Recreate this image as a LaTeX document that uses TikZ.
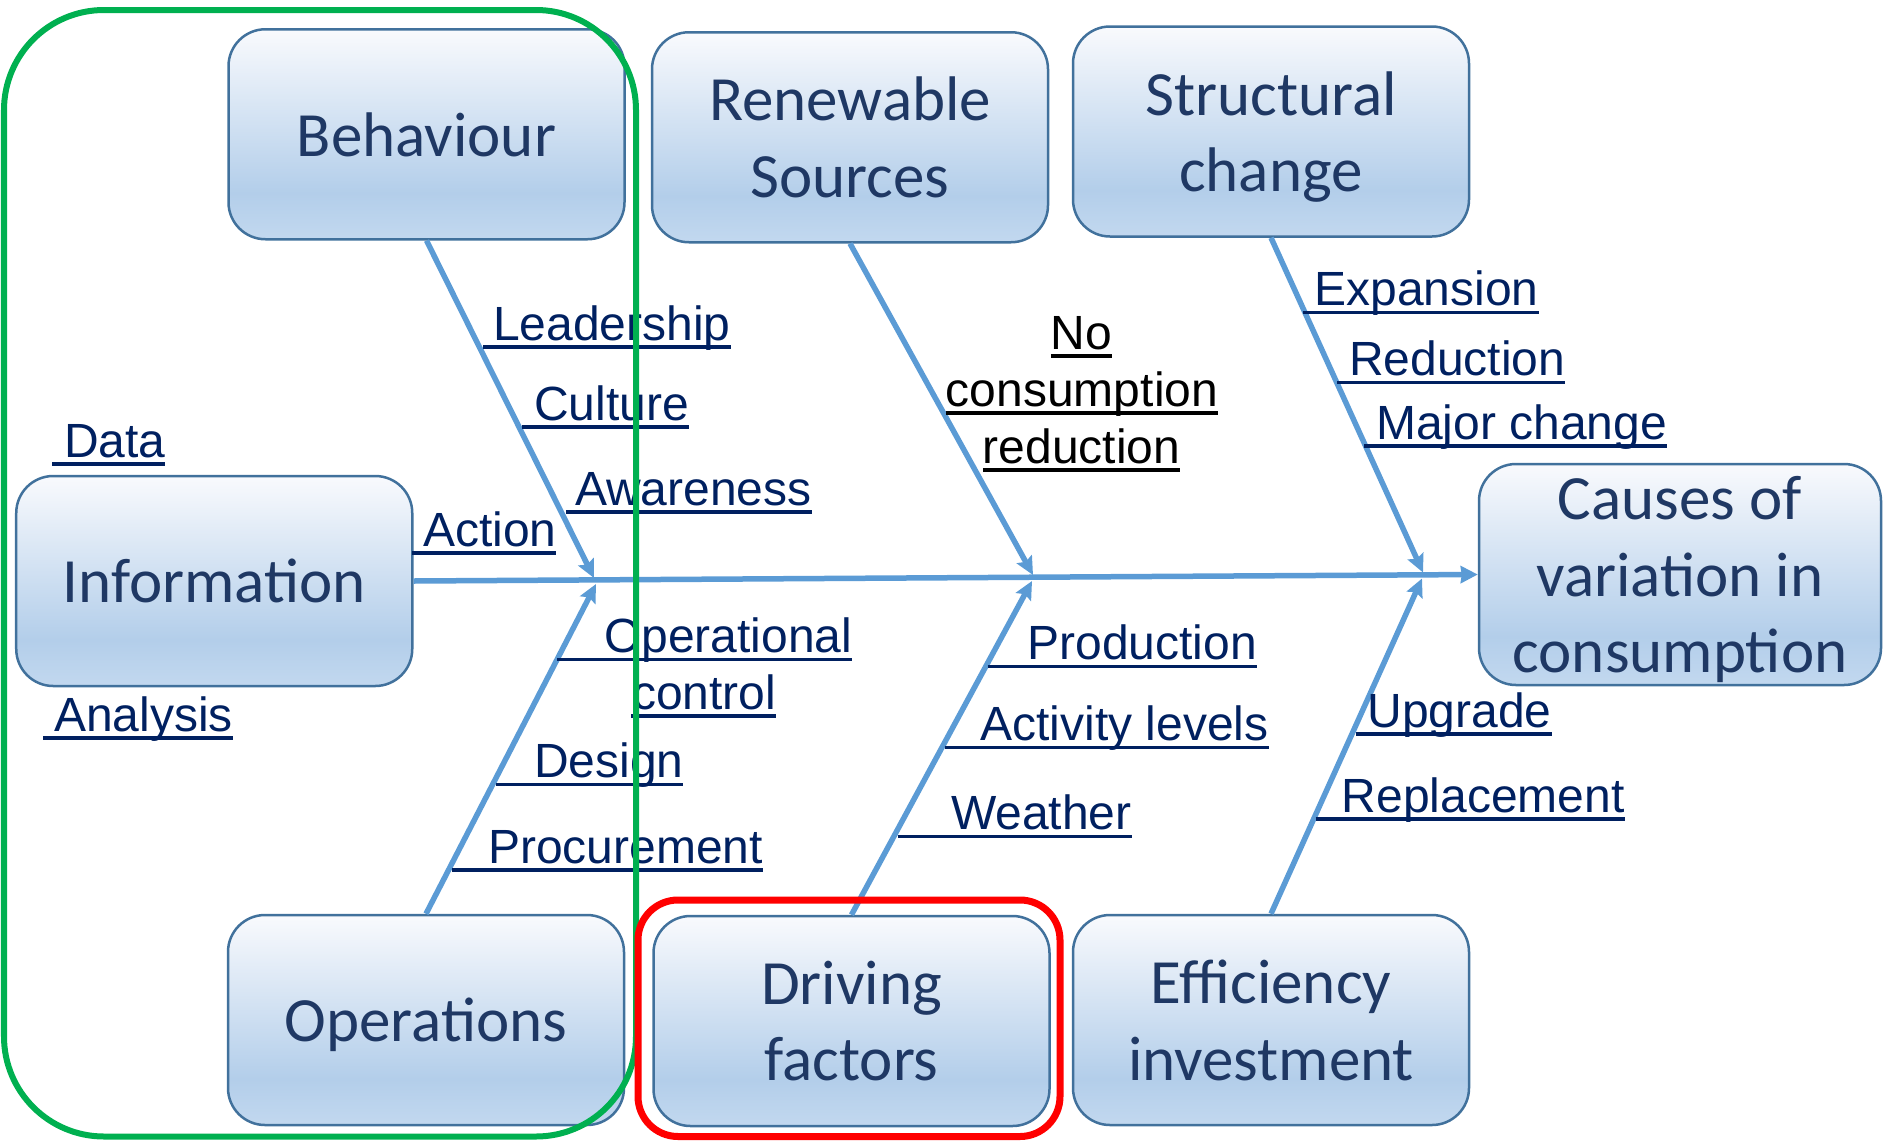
\documentclass[tikz,border=0pt]{standalone}
\usepackage{fontspec}
\setmainfont{Carlito}
\newfontfamily\arialf{Liberation Sans}
\usetikzlibrary{arrows.meta}

\definecolor{boxtxt}{RGB}{31,56,100}
\definecolor{boxedge}{RGB}{65,113,156}
\definecolor{labtxt}{RGB}{0,32,96}
\definecolor{arr}{RGB}{91,155,213}
\definecolor{gtop}{RGB}{249,250,253}
\definecolor{gmid}{RGB}{179,206,234}
\definecolor{gbot}{RGB}{194,216,239}
\definecolor{grn}{RGB}{0,176,80}
\definecolor{rd}{RGB}{255,0,0}

\pgfdeclareverticalshading{boxshade}{100bp}{color(0bp)=(gbot); color(25bp)=(gbot); color(36bp)=(gmid); color(75bp)=(gtop); color(100bp)=(gtop)}

\tikzset{
  fbox/.style={draw=boxedge, line width=2.5bp, rounded corners=37bp, shading=boxshade,
    minimum width=396bp, minimum height=210bp, inner sep=0pt, text depth=0pt,
    align=center, text=boxtxt, font=\fontsize{63bp}{76.5bp}\selectfont},
  ulab/.style={font=\arialf\fontsize{48bp}{57bp}\selectfont, text=labtxt, inner sep=0pt,
    outer sep=0pt, text depth=7bp, anchor=base west,
    append after command={(\tikzlastnode.south west) edge[draw=labtxt, line width=3.5bp] (\tikzlastnode.south east)}},
  blab/.style={font=\arialf\fontsize{48bp}{57bp}\selectfont, text=black, inner sep=0pt,
    outer sep=0pt, text depth=7bp, anchor=base,
    append after command={(\tikzlastnode.south west) edge[draw=black, line width=3.5bp] (\tikzlastnode.south east)}},
  bone/.style={draw=arr, line width=5.5bp, -{Stealth[length=18bp,width=17bp,inset=3bp]}},
  spinetip/.style={-{Stealth[length=17bp,width=17bp,inset=1bp]}},
  frame/.style={line width=6bp, rounded corners=100bp}
}

\begin{document}
\begin{tikzpicture}[x=1bp,y=-1bp]
\useasboundingbox (0,0) rectangle (1883,1140);

% boxes
\node[fbox] (beh) at (426.5,134.25) {Behaviour};
\node[fbox] (ren) at (850,137.25) {Renewable\\Sources};
\node[fbox] (str) at (1271,131.5) {Structural\\change};
\node[fbox] (inf) at (214.25,581) {Information};
\node[fbox] (ops) at (426,1020) {Operations};
\node[fbox] (drv) at (851.5,1021) {Driving\\factors};
\node[fbox] (eff) at (1271,1020) {Efficiency\\investment};
\node[fbox, minimum width=402bp, minimum height=221bp] (cau) at (1680,574.5) {Causes of\\variation in\\consumption};

% junction points on the spine
\coordinate (t1) at (594,578);
\coordinate (b1) at (596,584);
\coordinate (t2) at (1033,575);
\coordinate (b2) at (1032,581);
\coordinate (t3) at (1423,572.5);
\coordinate (b3) at (1422,578.5);

% spine and branches
\draw[bone, spinetip] (inf.east) -- (cau.west);
\draw[bone] (beh.south) -- (t1);
\draw[bone] (ops.north) -- (b1);
\draw[bone] (ren.south) -- (t2);
\draw[bone] (drv.north) -- (b2);
\draw[bone] (str.south) -- (t3);
\draw[bone] (eff.north) -- (b3);

% labels
\node[ulab] (lead) at (483,340) {\hspace*{10bp}Leadership};
\node[ulab] (cult) at (522,420) {\hspace*{12bp}Culture};
\node[ulab] (awar) at (566,505) {\hspace*{9bp}Awareness};
\node[ulab] (acti) at (412,546) {\hspace*{11bp}Action};
\node[ulab] (data) at (52,457) {\hspace*{12bp}Data};
\node[ulab] (anal) at (43,731) {\hspace*{11bp}Analysis};
\node[ulab] (oper) at (557,652.5) {\hspace*{47bp}Operational};
\node[ulab] (cont) at (631,709) {\hspace*{1bp}control};
\node[ulab] (desi) at (496,777.5) {\hspace*{38bp}Design};
\node[ulab] (proc) at (452,863) {\hspace*{36bp}Procurement};
\node[ulab] (prod) at (987.5,659.6) {\hspace*{40bp}Production};
\node[ulab] (actl) at (944.6,740.5) {\hspace*{36bp}Activity levels};
\node[ulab] (weat) at (898,829.7) {\hspace*{53bp}Weather};
\node[ulab] (expa) at (1302.5,305.5) {\hspace*{12bp}Expansion};
\node[ulab] (redu) at (1337,375.6) {\hspace*{12bp}Reduction};
\node[ulab] (majo) at (1364,439) {\hspace*{12bp}Major change};
\node[ulab] (upgr) at (1355.5,727) {\hspace*{12bp}Upgrade};
\node[ulab] (repl) at (1315.7,812) {\hspace*{26bp}Replacement};

\node[blab] (no) at (1081.5,349) {No};
\node[blab] (cons) at (1082,406) {consumption};
\node[blab] (redn) at (1081.5,463) {reduction};

% highlight frames
\draw[frame, draw=grn] (4,10) rectangle (636,1136.5);
\draw[line width=7bp, rounded corners=40bp, draw=rd] (638,900) rectangle (1060,1136.5);
\end{tikzpicture}
\end{document}
